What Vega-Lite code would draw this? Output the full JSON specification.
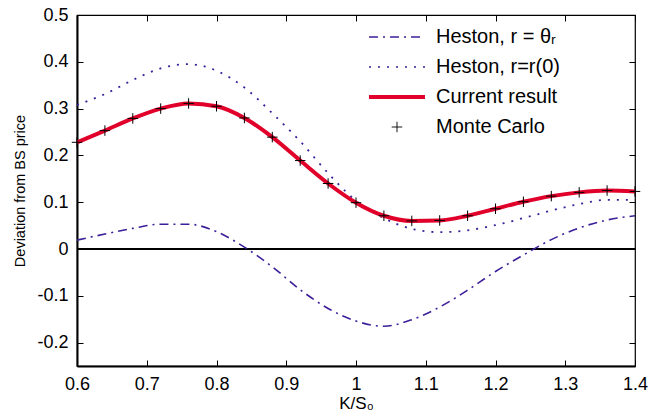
{
  "$schema": "https://vega.github.io/schema/vega-lite/v6.json",
  "width": 558,
  "height": 351,
  "autosize": {"type": "none"},
  "padding": {"left": 77, "top": 15, "right": 13, "bottom": 52},
  "background": "white",
  "config": {
    "font": "Liberation Sans",
    "view": {"stroke": "black", "strokeWidth": 1.2},
    "axis": {"labelFont": "Liberation Sans", "titleFont": "Liberation Sans", "labelColor": "black", "titleColor": "black", "tickColor": "black", "domainColor": "black", "grid": false, "titleFontWeight": "normal", "labelFlush": false, "labelOverlap": false}
  },
  "datasets": {
    "d": [
      {"k": 0.60, "series": "Heston, r = θᵣ", "y": 0.019},
      {"k": 0.64, "series": "Heston, r = θᵣ", "y": 0.032},
      {"k": 0.68, "series": "Heston, r = θᵣ", "y": 0.044},
      {"k": 0.72, "series": "Heston, r = θᵣ", "y": 0.053},
      {"k": 0.76, "series": "Heston, r = θᵣ", "y": 0.053},
      {"k": 0.80, "series": "Heston, r = θᵣ", "y": 0.037},
      {"k": 0.84, "series": "Heston, r = θᵣ", "y": 0.004},
      {"k": 0.88, "series": "Heston, r = θᵣ", "y": -0.038},
      {"k": 0.92, "series": "Heston, r = θᵣ", "y": -0.087},
      {"k": 0.96, "series": "Heston, r = θᵣ", "y": -0.127},
      {"k": 1.00, "series": "Heston, r = θᵣ", "y": -0.154},
      {"k": 1.04, "series": "Heston, r = θᵣ", "y": -0.165},
      {"k": 1.08, "series": "Heston, r = θᵣ", "y": -0.151},
      {"k": 1.12, "series": "Heston, r = θᵣ", "y": -0.124},
      {"k": 1.16, "series": "Heston, r = θᵣ", "y": -0.088},
      {"k": 1.20, "series": "Heston, r = θᵣ", "y": -0.048},
      {"k": 1.24, "series": "Heston, r = θᵣ", "y": -0.013},
      {"k": 1.28, "series": "Heston, r = θᵣ", "y": 0.020},
      {"k": 1.32, "series": "Heston, r = θᵣ", "y": 0.045},
      {"k": 1.36, "series": "Heston, r = θᵣ", "y": 0.062},
      {"k": 1.40, "series": "Heston, r = θᵣ", "y": 0.071},
      {"k": 0.60, "series": "Heston, r=r(0)", "y": 0.308},
      {"k": 0.64, "series": "Heston, r=r(0)", "y": 0.331},
      {"k": 0.68, "series": "Heston, r=r(0)", "y": 0.361},
      {"k": 0.72, "series": "Heston, r=r(0)", "y": 0.386},
      {"k": 0.76, "series": "Heston, r=r(0)", "y": 0.395},
      {"k": 0.80, "series": "Heston, r=r(0)", "y": 0.381},
      {"k": 0.84, "series": "Heston, r=r(0)", "y": 0.345},
      {"k": 0.88, "series": "Heston, r=r(0)", "y": 0.290},
      {"k": 0.92, "series": "Heston, r=r(0)", "y": 0.230},
      {"k": 0.96, "series": "Heston, r=r(0)", "y": 0.162},
      {"k": 1.00, "series": "Heston, r=r(0)", "y": 0.103},
      {"k": 1.04, "series": "Heston, r=r(0)", "y": 0.066},
      {"k": 1.08, "series": "Heston, r=r(0)", "y": 0.043},
      {"k": 1.12, "series": "Heston, r=r(0)", "y": 0.036},
      {"k": 1.16, "series": "Heston, r=r(0)", "y": 0.040},
      {"k": 1.20, "series": "Heston, r=r(0)", "y": 0.051},
      {"k": 1.24, "series": "Heston, r=r(0)", "y": 0.066},
      {"k": 1.28, "series": "Heston, r=r(0)", "y": 0.082},
      {"k": 1.32, "series": "Heston, r=r(0)", "y": 0.096},
      {"k": 1.36, "series": "Heston, r=r(0)", "y": 0.105},
      {"k": 1.40, "series": "Heston, r=r(0)", "y": 0.105},
      {"k": 0.60, "series": "Current result", "y": 0.228},
      {"k": 0.64, "series": "Current result", "y": 0.253},
      {"k": 0.68, "series": "Current result", "y": 0.279},
      {"k": 0.72, "series": "Current result", "y": 0.300},
      {"k": 0.76, "series": "Current result", "y": 0.311},
      {"k": 0.80, "series": "Current result", "y": 0.305},
      {"k": 0.84, "series": "Current result", "y": 0.280},
      {"k": 0.88, "series": "Current result", "y": 0.239},
      {"k": 0.92, "series": "Current result", "y": 0.189},
      {"k": 0.96, "series": "Current result", "y": 0.140},
      {"k": 1.00, "series": "Current result", "y": 0.099},
      {"k": 1.04, "series": "Current result", "y": 0.071},
      {"k": 1.08, "series": "Current result", "y": 0.060},
      {"k": 1.12, "series": "Current result", "y": 0.061},
      {"k": 1.16, "series": "Current result", "y": 0.071},
      {"k": 1.20, "series": "Current result", "y": 0.086},
      {"k": 1.24, "series": "Current result", "y": 0.101},
      {"k": 1.28, "series": "Current result", "y": 0.113},
      {"k": 1.32, "series": "Current result", "y": 0.121},
      {"k": 1.36, "series": "Current result", "y": 0.125},
      {"k": 1.40, "series": "Current result", "y": 0.123},
      {"k": 0.60, "series": "Monte Carlo", "y": 0.228},
      {"k": 0.64, "series": "Monte Carlo", "y": 0.253},
      {"k": 0.68, "series": "Monte Carlo", "y": 0.279},
      {"k": 0.72, "series": "Monte Carlo", "y": 0.300},
      {"k": 0.76, "series": "Monte Carlo", "y": 0.311},
      {"k": 0.80, "series": "Monte Carlo", "y": 0.305},
      {"k": 0.84, "series": "Monte Carlo", "y": 0.280},
      {"k": 0.88, "series": "Monte Carlo", "y": 0.239},
      {"k": 0.92, "series": "Monte Carlo", "y": 0.189},
      {"k": 0.96, "series": "Monte Carlo", "y": 0.140},
      {"k": 1.00, "series": "Monte Carlo", "y": 0.099},
      {"k": 1.04, "series": "Monte Carlo", "y": 0.071},
      {"k": 1.08, "series": "Monte Carlo", "y": 0.060},
      {"k": 1.12, "series": "Monte Carlo", "y": 0.061},
      {"k": 1.16, "series": "Monte Carlo", "y": 0.071},
      {"k": 1.20, "series": "Monte Carlo", "y": 0.086},
      {"k": 1.24, "series": "Monte Carlo", "y": 0.101},
      {"k": 1.28, "series": "Monte Carlo", "y": 0.113},
      {"k": 1.32, "series": "Monte Carlo", "y": 0.121},
      {"k": 1.36, "series": "Monte Carlo", "y": 0.125},
      {"k": 1.40, "series": "Monte Carlo", "y": 0.123}
    ]
  },
  "data": {"name": "d"},
  "resolve": {"axis": {"x": "independent", "y": "independent"}},
  "layer": [
    {
      "mark": {"type": "rule", "color": "black", "strokeWidth": 1.5},
      "encoding": {"y": {"datum": 0, "type": "quantitative", "scale": {"domain": [-0.25, 0.5], "nice": false}, "axis": null}}
    },
    {
      "transform": [{"filter": "datum.series === 'Heston, r = θᵣ'"}],
      "mark": {"type": "line", "interpolate": "monotone", "strokeWidth": 1.6, "strokeDash": [9, 5, 2, 5]},
      "encoding": {
        "x": {"field": "k", "type": "quantitative", "scale": {"domain": [0.6, 1.4], "nice": false, "zero": false},
          "axis": {"orient": "bottom", "values": [0.6, 0.7, 0.8, 0.9, 1, 1.1, 1.2, 1.3, 1.4], "labelExpr": "toString(datum.value)", "tickSize": -6, "labelPadding": 15, "labelFontSize": 18, "title": "K/S₀", "titleFontSize": 17, "titlePadding": 2, "domainWidth": 2, "tickWidth": 1}},
        "y": {"field": "y", "type": "quantitative", "scale": {"domain": [-0.25, 0.5], "nice": false, "zero": false},
          "axis": {"orient": "left", "values": [-0.2, -0.1, 0, 0.1, 0.2, 0.3, 0.4, 0.5], "labelExpr": "toString(datum.value)", "tickSize": -6, "labelPadding": 15, "labelFontSize": 18, "title": "Deviation from BS price", "titleFontSize": 14.5, "titlePadding": 9, "domainWidth": 2, "tickWidth": 1}},
        "color": {"field": "series", "type": "nominal",
          "scale": {"domain": ["Heston, r = θᵣ", "Heston, r=r(0)", "Current result", "Monte Carlo"], "range": ["#3d1f99", "#3d1f99", "#e0002a", "#000000"]},
          "legend": {
            "title": null, "orient": "none", "legendX": 310, "legendY": 12,
            "labelFontSize": 20, "labelColor": "black", "labelOffset": 29, "rowPadding": 10,
            "symbolSize": 100,
            "encode": {"symbols": {"update": {
              "shape": {"signal": "datum.value === 'Monte Carlo' ? 'M-1,0H1M0,-1V1' : 'M-1,0H1'"},
              "size": {"signal": "datum.value === 'Monte Carlo' ? 110 : 3136"},
              "strokeDash": {"signal": "datum.value === 'Heston, r = θᵣ' ? [9,5,2,5] : datum.value === 'Heston, r=r(0)' ? [2,7] : [1,0]"},
              "strokeWidth": {"signal": "datum.value === 'Current result' ? 4 : datum.value === 'Monte Carlo' ? 1 : 1.6"},
              "stroke": {"signal": "scale('color', datum.value)"},
              "fill": {"value": "transparent"},
              "opacity": {"value": 1}
            }}}
          }
        }
      }
    },
    {
      "transform": [{"filter": "datum.series === 'Heston, r=r(0)'"}],
      "mark": {"type": "line", "interpolate": "monotone", "strokeWidth": 1.8, "strokeDash": [2, 7]},
      "encoding": {
        "x": {"field": "k", "type": "quantitative", "axis": {"orient": "top", "values": [0.6, 0.7, 0.8, 0.9, 1, 1.1, 1.2, 1.3, 1.4], "labels": false, "tickSize": -6, "domain": false, "title": null}},
        "y": {"field": "y", "type": "quantitative", "axis": {"orient": "right", "values": [-0.2, -0.1, 0, 0.1, 0.2, 0.3, 0.4, 0.5], "labels": false, "tickSize": -6, "domain": false, "title": null}},
        "color": {"field": "series", "type": "nominal"}
      }
    },
    {
      "transform": [{"filter": "datum.series === 'Current result'"}],
      "mark": {"type": "line", "interpolate": "monotone", "strokeWidth": 4},
      "encoding": {
        "x": {"field": "k", "type": "quantitative", "axis": null},
        "y": {"field": "y", "type": "quantitative", "axis": null},
        "color": {"field": "series", "type": "nominal"}
      }
    },
    {
      "transform": [{"filter": "datum.series === 'Monte Carlo'"}],
      "mark": {"type": "point", "shape": "M-1,0H1M0,-1V1", "size": 110, "filled": false, "strokeWidth": 1, "opacity": 1},
      "encoding": {
        "x": {"field": "k", "type": "quantitative", "axis": null},
        "y": {"field": "y", "type": "quantitative", "axis": null},
        "color": {"field": "series", "type": "nominal"}
      }
    }
  ]
}
